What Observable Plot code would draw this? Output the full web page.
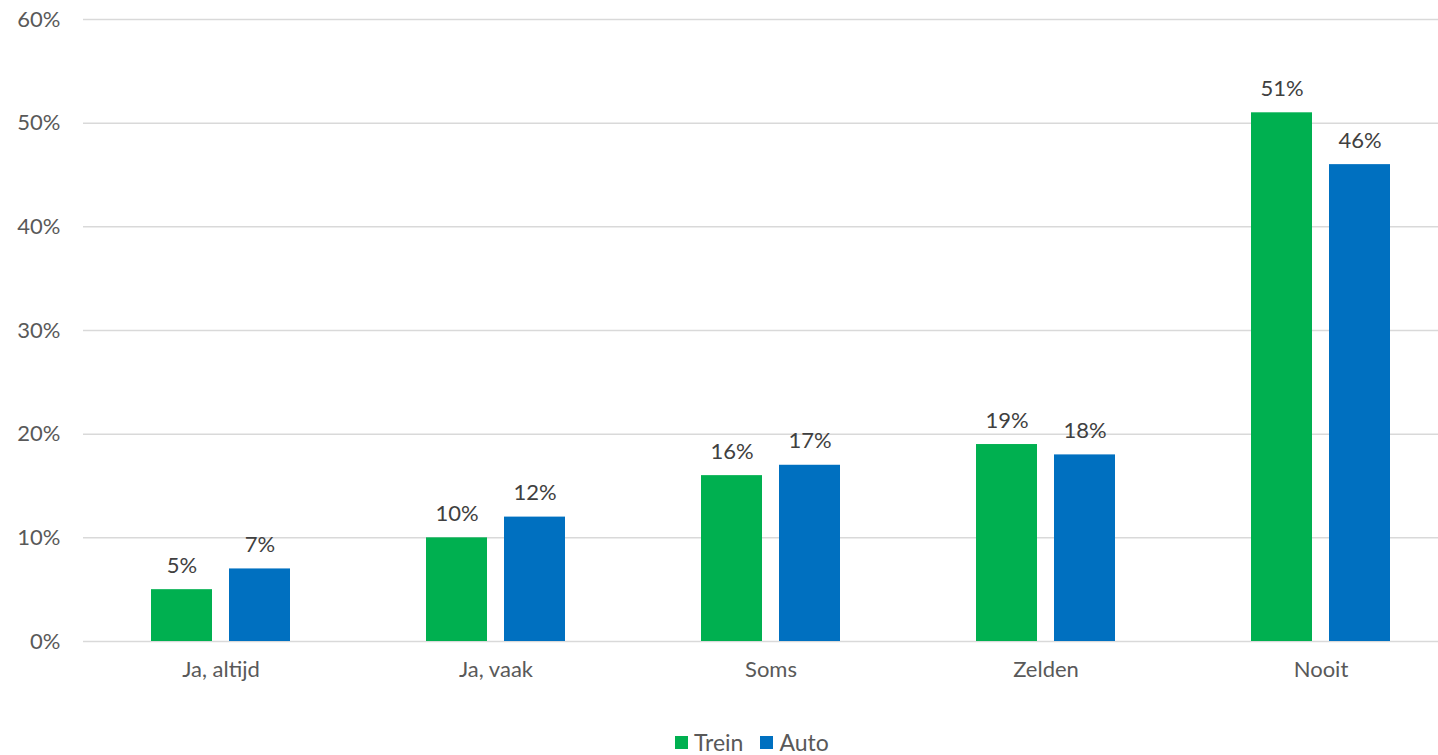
<!DOCTYPE html>
<html><head><meta charset="utf-8">
<script src="https://cdn.jsdelivr.net/npm/d3@7"></script>
<script src="https://cdn.jsdelivr.net/npm/@observablehq/plot@0.6"></script>
<style>
html,body{margin:0;padding:0;overflow:hidden;background:#fff;width:1438px;height:755px}
#chart{position:relative;width:1438px;height:755px;overflow:hidden}
#chart svg{max-width:none !important;height:700px !important;width:1460px !important}
.legend{position:absolute;top:731px;left:675px;display:flex;align-items:center;font-family:Lato,sans-serif;font-size:23px;line-height:23px;color:#595959;white-space:nowrap}
.legend .sw{display:inline-block;width:13px;height:13px;margin-right:6px}
.legend .item{display:flex;align-items:center;margin-right:17px}
</style></head>
<body><div id="chart"></div>
<script>
const categories = ["Ja, altijd", "Ja, vaak", "Soms", "Zelden", "Nooit"];
const series = ["Trein", "Auto"];
const treinValues = [5, 10, 16, 19, 51];
const autoValues = [7, 12, 17, 18, 46];
const colors = ["#00B050", "#0070C0"];
const yTicks = [0, 10, 20, 30, 40, 50, 60];

const data = [];
categories.forEach((c, i) => {
  data.push({category: c, series: "Trein", value: treinValues[i]});
  data.push({category: c, series: "Auto", value: autoValues[i]});
});

const font = "Lato, sans-serif";
const chart = Plot.plot({
  width: 1460,
  height: 700,
  marginLeft: 81,
  marginRight: 0,
  marginTop: 19,
  marginBottom: 59,
  style: {fontFamily: font, fontSize: "22px", color: "#595959", background: "white", maxWidth: "none"},
  fx: {domain: categories, padding: 0, label: null},
  x: {domain: series, paddingInner: 0.215, paddingOuter: 0.86, axis: null},
  y: {domain: [0, 60], label: null},
  color: {domain: series, range: colors},
  marks: [
    Plot.ruleY(yTicks, {stroke: "#d9d9d9", strokeWidth: 1.5}),
    Plot.axisY({ticks: yTicks, tickFormat: d => d + "%", tickSize: 0, tickPadding: 23, label: null, fill: "#595959", fontSize: 22}),
    Plot.axisFx({anchor: "bottom", tickSize: 0, tickPadding: 20, label: null, fill: "#595959", fontSize: 22}),
    Plot.barY(data, {fx: "category", x: "series", y: "value", fill: "series"}),
    Plot.text(data, {fx: "category", x: "series", y: "value", text: d => d.value + "%", lineAnchor: "bottom", dy: -17, fill: "#404040", fontSize: 22})
  ]
});
document.getElementById("chart").appendChild(chart);

const legend = document.createElement("div");
legend.className = "legend";
series.forEach((s, i) => {
  const item = document.createElement("span");
  item.className = "item";
  const sw = document.createElement("span");
  sw.className = "sw";
  sw.style.background = colors[i];
  item.appendChild(sw);
  item.appendChild(document.createTextNode(s));
  legend.appendChild(item);
});
document.getElementById("chart").appendChild(legend);
</script></body></html>
